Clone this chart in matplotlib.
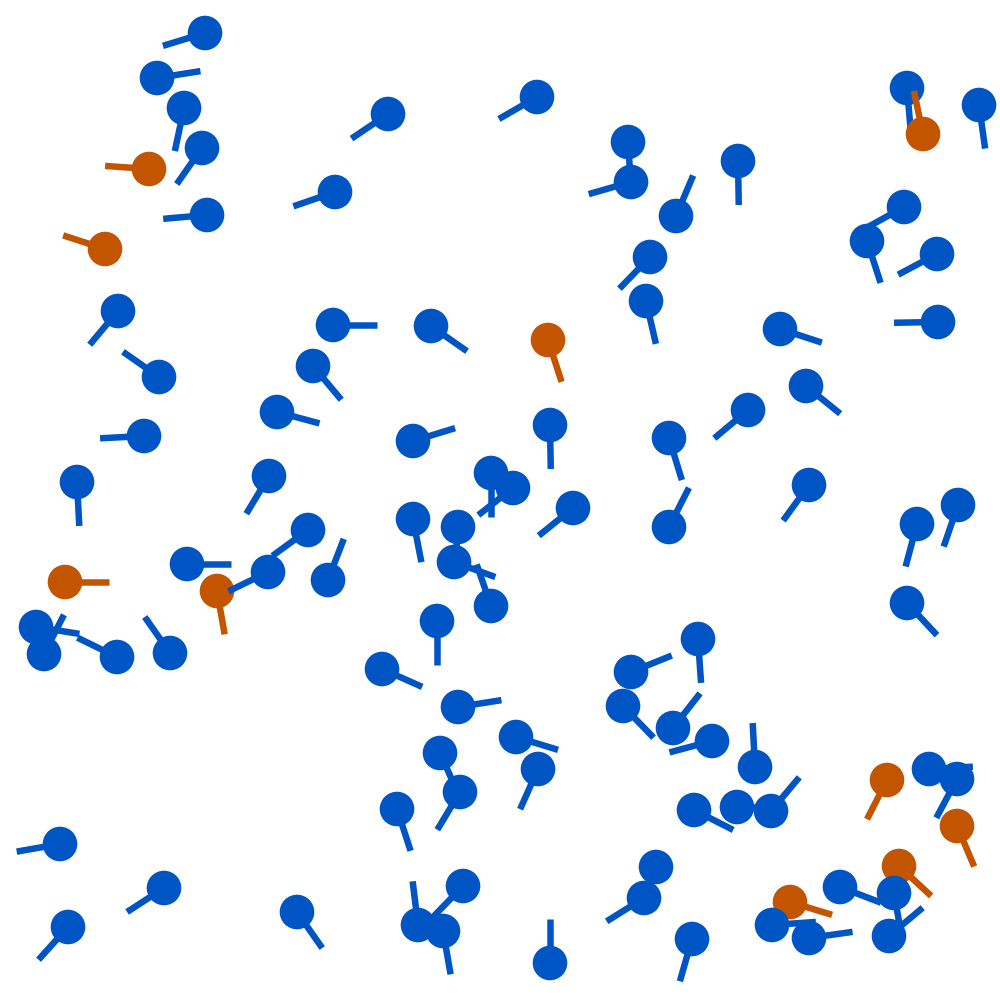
import numpy as np
import matplotlib
matplotlib.use("Agg")
import matplotlib.pyplot as plt
from matplotlib.patches import Circle

# glyph centres (pixel-like units, y measured from top), tail direction (deg, CCW, y up)
x = [205,157,184,202,149,207,105,388,335,118,333,431,159,313,277,144,413,77,269,491,
     513,537,628,631,738,676,650,646,548,907,923,979,904,867,937,938,780,806,748,550,
     669,809,958,573,669,917,907,698,631,623,673,712,755,516,538,694,737,771,887,929,
     957,957,899,840,894,889,790,772,809,656,644,692,550,65,187,217,268,308,328,36,
     44,117,170,413,458,454,491,437,382,458,440,460,397,60,164,68,297,418,463,443]
y_top = [33,78,108,148,169,215,249,114,192,311,325,326,377,366,412,436,441,482,476,473,
         488,97,142,182,161,216,257,301,340,88,134,105,207,241,254,322,329,386,410,425,
         438,485,505,508,527,524,603,639,672,706,728,741,767,737,769,810,807,811,780,769,
         779,826,866,887,893,936,902,925,938,867,898,939,963,582,564,591,572,530,580,627,
         654,657,653,519,527,562,606,621,669,707,753,792,809,844,888,927,912,925,886,931]
angle_deg = [197,9,258,235,176,185,162,214,199,230,0,325,145,310,345,183,17,273,239,270,
             218,210,274,196,271,67,226,283,288,275,102,278,209,288,208,181,342,321,220,271,
             287,234,251,219,63,255,313,274,22,314,52,195,93,343,246,333,0,50,243,3,
             242,293,317,339,280,40,343,4,8,250,212,254,90,0,0,280,206,216,69,351,
             63,154,125,281,266,340,109,270,336,9,294,239,288,190,213,228,305,97,226,280]
target_idx = [4, 6, 28, 30, 58, 61, 62, 66, 73, 75]

BLUE = "#0055C4"
ORANGE = "#C45500"
R = 17.3
L = 44.0
LW = 6.5 * 72 / 100

fig = plt.figure(figsize=(10, 10), dpi=100)
ax = fig.add_axes([0, 0, 1, 1])
ax.set_xlim(0, 1000)
ax.set_ylim(0, 1000)
ax.set_aspect("equal")
ax.axis("off")

xs = np.array(x, dtype=float)
ys = 1000 - np.array(y_top, dtype=float)
th = np.deg2rad(np.array(angle_deg, dtype=float))
targets = set(target_idx)

for i in range(len(xs)):
    c = ORANGE if i in targets else BLUE
    x0, y0 = xs[i], ys[i]
    x1, y1 = x0 + L * np.cos(th[i]), y0 + L * np.sin(th[i])
    ax.plot([x0, x1], [y0, y1], color=c, lw=LW, solid_capstyle="butt",
            zorder=2 * i + 1)
    ax.add_patch(Circle((x0, y0), R, facecolor=c, edgecolor="none", zorder=2 * i + 2))

fig.savefig("out.png", dpi=100, facecolor="white")
